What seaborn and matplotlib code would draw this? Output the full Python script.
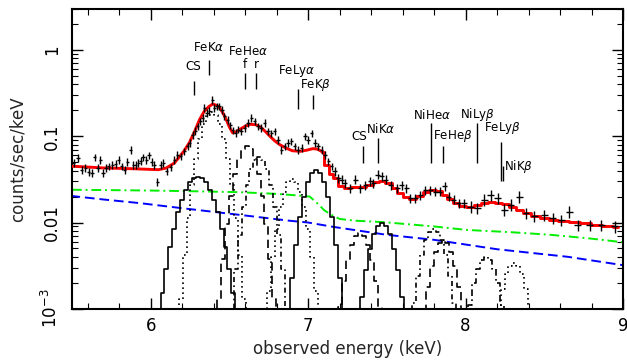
import matplotlib
matplotlib.use("Agg")
import matplotlib.pyplot as plt
import pandas as pd
import seaborn as sns
from matplotlib.ticker import FixedLocator, MultipleLocator, LogLocator, NullFormatter

# ---------------- data ----------------
data_energy = [
    5.510, 5.538, 5.563, 5.585, 5.606, 5.627, 5.644, 5.665, 5.681, 5.697,
    5.716, 5.734, 5.755, 5.777, 5.798, 5.815, 5.836, 5.851, 5.872, 5.889,
    5.904, 5.921, 5.936, 5.951, 5.972, 5.989, 6.006, 6.023, 6.042, 6.064,
    6.080, 6.102, 6.128, 6.149, 6.170, 6.192, 6.213, 6.234, 6.249, 6.266,
    6.283, 6.298, 6.315, 6.330, 6.340, 6.358, 6.372, 6.390, 6.404, 6.421,
    6.436, 6.453, 6.468, 6.489, 6.505, 6.522, 6.540, 6.557,
    6.575, 6.596, 6.617, 6.639, 6.660, 6.681, 6.702, 6.724, 6.745, 6.766,
    6.787, 6.808, 6.830, 6.851, 6.872, 6.894, 6.915, 6.936, 6.958, 6.979,
    7.000, 7.022, 7.043, 7.064, 7.086, 7.107, 7.128, 7.149,
    7.170, 7.192, 7.213, 7.234, 7.266, 7.298, 7.330, 7.362, 7.394, 7.415,
    7.443, 7.469, 7.494, 7.526, 7.565, 7.596, 7.622, 7.649, 7.681, 7.713,
    7.745, 7.777, 7.809, 7.837, 7.867, 7.894, 7.926, 7.958, 7.990,
    8.033, 8.075, 8.118, 8.160, 8.203, 8.245, 8.288, 8.341, 8.384, 8.437,
    8.501, 8.554, 8.607, 8.660, 8.714, 8.788, 8.863, 8.948]
data_counts = [
    0.0491, 0.0561, 0.0410, 0.0430, 0.0386, 0.0375, 0.0570, 0.0430, 0.0536, 0.0375,
    0.0430, 0.0448, 0.0469, 0.0478, 0.0536, 0.0448, 0.0410, 0.0504, 0.0700, 0.0469,
    0.0469, 0.0491, 0.0521, 0.0570, 0.0536, 0.0601, 0.0504, 0.0469, 0.0295, 0.0469,
    0.0491, 0.0392, 0.0437, 0.0536, 0.0612, 0.0585, 0.0670, 0.0766, 0.0838, 0.1047,
    0.1165, 0.1306, 0.149, 0.1636, 0.2138, 0.187, 0.199, 0.267, 0.2138, 0.2236,
    0.2236, 0.204, 0.171, 0.156, 0.135, 0.118, 0.110, 0.120,
    0.114, 0.125, 0.143, 0.164, 0.149, 0.131, 0.125, 0.143, 0.114, 0.109,
    0.114, 0.0916, 0.070, 0.0766, 0.0838, 0.0875, 0.0766, 0.070, 0.0732, 0.100,
    0.0916, 0.109, 0.0838, 0.0766, 0.070, 0.0612, 0.0512, 0.0448,
    0.0392, 0.0328, 0.0314, 0.0287, 0.0251, 0.0314, 0.0251, 0.0274, 0.0300, 0.0287,
    0.0359, 0.0343, 0.0314, 0.0274, 0.0251, 0.0274, 0.0251, 0.0192, 0.0192, 0.0210,
    0.0240, 0.0240, 0.0229, 0.0229, 0.0262, 0.0200, 0.0184, 0.0168, 0.0168,
    0.0153, 0.0147, 0.0184, 0.0210, 0.0192, 0.0141, 0.0161, 0.0200, 0.0129, 0.0118,
    0.0123, 0.0112, 0.0107, 0.0134, 0.0094, 0.0094, 0.0094, 0.0090]
data_energy_halfwidth = ([0.010] * 58) + ([0.011] * 28) + ([0.016] * 29) + ([0.022] * 18)
data_relative_error = ([0.10] * 58) + ([0.10] * 28) + ([0.12] * 29) + ([0.15] * 18)

model_energy = [
    5.50, 5.70, 5.90, 6.05, 6.10, 6.15, 6.18, 6.21, 6.245, 6.28,
    6.31, 6.34, 6.37, 6.395, 6.42, 6.44, 6.46, 6.48, 6.50, 6.52,
    6.54, 6.565, 6.60, 6.635, 6.67, 6.70, 6.73, 6.76, 6.79, 6.82,
    6.86, 6.90, 6.95, 6.99, 7.03, 7.06, 7.09,
    7.115, 7.145, 7.175, 7.205, 7.25, 7.30, 7.345, 7.39, 7.43, 7.47,
    7.51, 7.55, 7.585, 7.62, 7.665, 7.71, 7.745, 7.79, 7.83, 7.865,
    7.90, 7.935, 7.98, 8.03, 8.075, 8.12, 8.165, 8.21, 8.255, 8.30,
    8.345, 8.39, 8.44, 8.50, 8.56, 8.62, 8.69, 8.76, 8.83, 8.90, 8.97]
model_counts = [
    0.045, 0.043, 0.042, 0.041, 0.043, 0.049, 0.057, 0.067, 0.084, 0.115,
    0.156, 0.195, 0.222, 0.237, 0.228, 0.212, 0.185, 0.156, 0.128, 0.110,
    0.112, 0.120, 0.131, 0.138, 0.136, 0.127, 0.113, 0.099, 0.088, 0.080,
    0.073, 0.068, 0.067, 0.069, 0.072, 0.071, 0.066,
    0.047, 0.037, 0.033, 0.0262, 0.0251, 0.0255, 0.026, 0.0274, 0.0295, 0.0305,
    0.0287, 0.025, 0.022, 0.020, 0.0188, 0.0205, 0.0225, 0.024, 0.0232, 0.021,
    0.0185, 0.0168, 0.0155, 0.0151, 0.0158, 0.0168, 0.0173, 0.0168, 0.0162, 0.0153,
    0.0140, 0.0128, 0.0120, 0.0112, 0.0107, 0.0103, 0.0101, 0.0098, 0.0094, 0.0091, 0.0088]

powerlaw_energy = [5.49, 5.70, 5.93, 6.18, 6.56, 6.88, 7.00, 7.16, 7.50, 7.80, 8.20, 8.65, 9.00]
powerlaw_counts = [0.0204, 0.0185, 0.0168, 0.0148, 0.0123, 0.0105, 0.0100, 0.0089, 0.0072,
                   0.0063, 0.0049, 0.0040, 0.0032]

reflection_energy = [5.50, 6.00, 6.30, 6.56, 6.80, 6.95, 7.01, 7.07, 7.10, 7.14, 7.20,
                     7.30, 7.48, 7.80, 8.01, 8.30, 8.54, 8.80, 9.00]
reflection_counts = [0.024, 0.0235, 0.0230, 0.0225, 0.0215, 0.0205, 0.0200, 0.0160, 0.0140,
                     0.0125, 0.0110, 0.0105, 0.0101, 0.0090, 0.0082, 0.0077, 0.0072, 0.0065, 0.0059]

cs_fe_energy = [6.025, 6.05, 6.075, 6.1, 6.125, 6.15, 6.175, 6.2, 6.225, 6.25, 6.275, 6.3,
                6.325, 6.35, 6.375, 6.4, 6.425, 6.45, 6.475, 6.5, 6.525, 6.55, 6.575]
cs_fe_counts = [0.00033, 0.00074, 0.00153, 0.0029, 0.0052, 0.0085, 0.0131, 0.0184, 0.0241,
                0.0292, 0.0327, 0.034, 0.0327, 0.0292, 0.0241, 0.0184, 0.0131, 0.0085,
                0.0052, 0.0029, 0.00153, 0.00074, 0.00033]
feka_energy = [6.165, 6.19, 6.215, 6.24, 6.265, 6.29, 6.315, 6.34, 6.365, 6.39, 6.415,
               6.44, 6.465, 6.49, 6.515, 6.54, 6.565, 6.59, 6.615]
feka_counts = [0.00035, 0.00129, 0.0042, 0.0114, 0.0271, 0.054, 0.094, 0.139, 0.176, 0.19,
               0.176, 0.139, 0.094, 0.054, 0.0271, 0.0114, 0.0042, 0.00129, 0.00035]
fehe_f_energy = [6.41, 6.435, 6.46, 6.485, 6.51, 6.535, 6.56, 6.585, 6.61, 6.635, 6.66,
                 6.685, 6.71, 6.735, 6.76, 6.785, 6.81]
fehe_f_counts = [0.00037, 0.00129, 0.0038, 0.0096, 0.0203, 0.0364, 0.0552, 0.071, 0.077,
                 0.071, 0.0552, 0.0364, 0.0203, 0.0096, 0.0038, 0.00129, 0.00037]
fehe_r_energy = [6.49, 6.515, 6.54, 6.565, 6.59, 6.615, 6.64, 6.665, 6.69, 6.715, 6.74,
                 6.765, 6.79, 6.815, 6.84, 6.865, 6.89]
fehe_r_counts = [0.00028, 0.00097, 0.0029, 0.0072, 0.0153, 0.0274, 0.0416, 0.0535, 0.058,
                 0.0535, 0.0416, 0.0274, 0.0153, 0.0072, 0.0029, 0.00097, 0.00028]
felya_energy = [6.725, 6.75, 6.775, 6.8, 6.825, 6.85, 6.875, 6.9, 6.925, 6.95, 6.975, 7.0,
                7.025, 7.05, 7.075]
felya_counts = [0.00054, 0.0016, 0.0040, 0.0084, 0.0151, 0.0229, 0.0295, 0.032, 0.0295,
                0.0229, 0.0151, 0.0084, 0.0040, 0.0016, 0.00054]
fekb_energy = [6.875, 6.9, 6.925, 6.95, 6.975, 7.0, 7.025, 7.05, 7.075, 7.1, 7.125, 7.15,
               7.175, 7.2, 7.225]
fekb_counts = [0.00075, 0.0023, 0.0055, 0.0115, 0.0198, 0.0299, 0.0377, 0.041, 0.0377,
               0.0299, 0.0198, 0.0115, 0.0055, 0.0023, 0.00075]
csni_energy = [7.18, 7.205, 7.23, 7.255, 7.28, 7.305, 7.33, 7.355, 7.38, 7.405, 7.43, 7.455, 7.48]
csni_counts = [0.00044, 0.00105, 0.0021, 0.0037, 0.0055, 0.0070, 0.0076, 0.0070, 0.0055,
               0.0037, 0.0021, 0.00105, 0.00044]
nika_energy = [7.32, 7.345, 7.37, 7.395, 7.42, 7.445, 7.47, 7.495, 7.52, 7.545, 7.57, 7.595, 7.62]
nika_counts = [0.00058, 0.00138, 0.0028, 0.0049, 0.0073, 0.0092, 0.0100, 0.0092, 0.0073,
               0.0049, 0.0028, 0.00138, 0.00058]
nihea_energy = [7.65, 7.675, 7.70, 7.725, 7.75, 7.775, 7.80, 7.825, 7.85, 7.875, 7.90, 7.925, 7.95]
nihea_counts = [0.00049, 0.00117, 0.0024, 0.0042, 0.0062, 0.0078, 0.0085, 0.0078, 0.0062,
                0.0042, 0.0024, 0.00117, 0.00049]
feheb_energy = [7.71, 7.735, 7.76, 7.785, 7.81, 7.835, 7.86, 7.885, 7.91, 7.935, 7.96, 7.985, 8.01]
feheb_counts = [0.00036, 0.00087, 0.0018, 0.0031, 0.0046, 0.0058, 0.0063, 0.0058, 0.0046,
                0.0031, 0.0018, 0.00087, 0.00036]
nilyb_energy = [7.98, 8.005, 8.03, 8.055, 8.08, 8.105, 8.13, 8.155, 8.18, 8.205, 8.23, 8.255, 8.28]
nilyb_counts = [0.00023, 0.00055, 0.0011, 0.0020, 0.0029, 0.0037, 0.0040, 0.0037, 0.0029,
                0.0020, 0.0011, 0.00055, 0.00023]
nikb_energy = [8.16, 8.185, 8.21, 8.235, 8.26, 8.285, 8.31, 8.335, 8.36, 8.385, 8.41, 8.435, 8.46]
nikb_counts = [0.0002, 0.00047, 0.00096, 0.0017, 0.0025, 0.0031, 0.0034, 0.0031, 0.0025,
               0.0017, 0.00096, 0.00047, 0.0002]

# line identifications: text, text position, marker position
label_texts = ["CS", "FeK$\\alpha$", "FeHe$\\alpha$", "f", "r", "FeLy$\\alpha$", "FeK$\\beta$",
               "CS", "NiK$\\alpha$", "NiHe$\\alpha$", "FeHe$\\beta$", "NiLy$\\beta$",
               "FeLy$\\beta$", "NiK$\\beta$"]
label_text_energy = [6.272, 6.372, 6.617, 6.60, 6.67, 6.930, 7.050, 7.322, 7.462, 7.786,
                     7.916, 8.075, 8.237, 8.336]
label_text_counts = [0.652, 1.067, 0.973, 0.683, 0.683, 0.575, 0.395, 0.100, 0.122, 0.179,
                     0.100, 0.179, 0.125, 0.0448]
marker_energy = [6.272, 6.372, 6.60, 6.67, 6.936, 7.028, 7.347, 7.447, 7.78, 7.856, 8.075,
                 8.224, 8.236]
marker_low = [0.305, 0.508, 0.356, 0.356, 0.205, 0.205, 0.0491, 0.0491, 0.0491, 0.0491,
              0.0491, 0.030, 0.030]
marker_high = [0.436, 0.759, 0.536, 0.536, 0.356, 0.300, 0.0766, 0.0966, 0.144, 0.0766,
               0.144, 0.0851, 0.0448]

y_tick_values = [1e-3, 1e-2, 1e-1, 1]
y_tick_labels = ["$10^{-3}$", "0.01", "0.1", "1"]
x_tick_values = [6, 7, 8, 9]

# ---------------- drawing ----------------
sns.set_theme(style="ticks")
plt.rcParams["font.family"] = ["DejaVu Sans"]
plt.rcParams["mathtext.fontset"] = "dejavusans"

fig = plt.figure(figsize=(6.27, 3.62), dpi=100)
ax = fig.add_axes([0.1148, 0.1472, 0.8788, 0.8279])

# continuum components
sns.lineplot(x=powerlaw_energy, y=powerlaw_counts, ax=ax, color="#0000ff", lw=1.4,
             linestyle=(0, (5, 2.5)), estimator=None, sort=False)
sns.lineplot(x=reflection_energy, y=reflection_counts, ax=ax, color="#00ee00", lw=1.4,
             linestyle=(0, (5, 2, 1, 2)), estimator=None, sort=False)

components = [
    (cs_fe_energy, cs_fe_counts, "-"),
    (feka_energy, feka_counts, (0, (1, 2))),
    (fehe_f_energy, fehe_f_counts, (0, (5, 3))),
    (fehe_r_energy, fehe_r_counts, (0, (3, 2, 1, 2))),
    (felya_energy, felya_counts, (0, (1, 2))),
    (fekb_energy, fekb_counts, "-"),
    (csni_energy, csni_counts, (0, (5, 3))),
    (nika_energy, nika_counts, "-"),
    (nihea_energy, nihea_counts, (0, (3, 2, 1, 2))),
    (feheb_energy, feheb_counts, (0, (5, 3))),
    (nilyb_energy, nilyb_counts, (0, (4, 2, 1, 2))),
    (nikb_energy, nikb_counts, (0, (1, 2))),
]
for e, c, ls in components:
    sns.lineplot(x=e, y=c, ax=ax, color="black", lw=1.2, linestyle=ls,
                 drawstyle="steps-mid", estimator=None, sort=False)

# total model
model = pd.DataFrame({"energy": model_energy, "counts": model_counts})
smooth = model[model["energy"] <= 7.09]
stepped = model[model["energy"] >= 7.09]
sns.lineplot(data=smooth, x="energy", y="counts", ax=ax, color="#ff0000", lw=2.1,
             estimator=None, sort=False, zorder=5)
sns.lineplot(data=stepped, x="energy", y="counts", ax=ax, color="#ff0000", lw=2.1,
             drawstyle="steps-mid", estimator=None, sort=False, zorder=5)

# data with error bars
yerr = [c * r for c, r in zip(data_counts, data_relative_error)]
ax.errorbar(data_energy, data_counts, xerr=data_energy_halfwidth, yerr=yerr, fmt="none",
            ecolor="black", elinewidth=1.0, capsize=0, zorder=6)

# line identification labels
for t, xe, yc in zip(label_texts, label_text_energy, label_text_counts):
    ax.text(xe, yc, t, ha="center", va="center", fontsize=8.6, color="black", zorder=7)
ax.vlines(marker_energy, marker_low, marker_high, colors="black", lw=1.0, zorder=7)

ax.set_yscale("log")
ax.set_xlim(5.5, 9.0)
ax.set_ylim(1e-3, 3.0)

ax.xaxis.set_major_locator(FixedLocator(x_tick_values))
ax.xaxis.set_minor_locator(MultipleLocator(0.2))
ax.set_xticklabels([str(v) for v in x_tick_values])
ax.yaxis.set_major_locator(FixedLocator(y_tick_values))
ax.yaxis.set_minor_locator(LogLocator(base=10, subs=[2, 3, 4, 5, 6, 7, 8, 9]))
ax.yaxis.set_minor_formatter(NullFormatter())
ax.set_yticklabels(y_tick_labels, rotation=90, va="center")

ax.tick_params(which="both", direction="in", top=True, right=True, colors="black",
               labelsize=12)
ax.tick_params(which="major", length=8, width=1.0)
ax.tick_params(which="minor", length=4, width=0.8)
ax.tick_params(axis="x", pad=6)
ax.tick_params(axis="y", pad=8)

for s in ax.spines.values():
    s.set_linewidth(1.5)
    s.set_color("black")

ax.set_xlabel("observed energy (keV)", fontsize=12)
ax.set_ylabel("counts/sec/keV", fontsize=12)
ax.xaxis.set_label_coords(0.5, -0.105)
ax.yaxis.set_label_coords(-0.083, 0.5)
ax.set_facecolor("white")
fig.patch.set_facecolor("white")

fig.savefig("out.png", dpi=100)
